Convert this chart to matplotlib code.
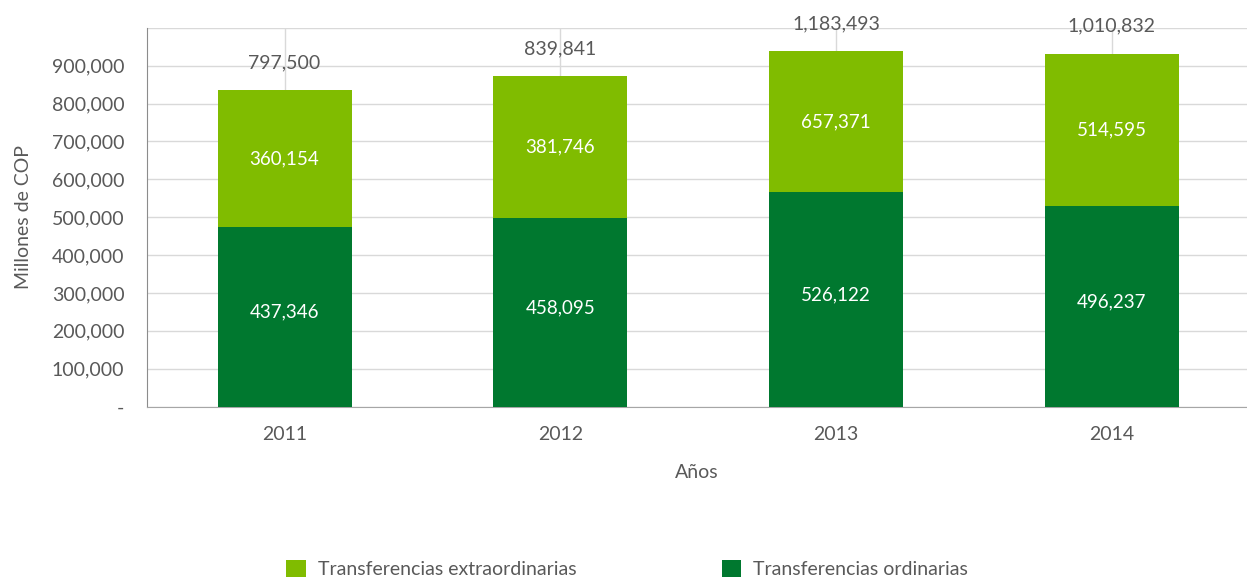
import matplotlib.pyplot as plt
import numpy as np

years = ['2011', '2012', '2013', '2014']
# bar heights as drawn in the chart
ordinarias_h = [475000, 499000, 567000, 530000]
extra_h = [360000, 373000, 371000, 401000]
# value labels printed on the chart
ordinarias_lbl = ['437,346', '458,095', '526,122', '496,237']
extra_lbl = ['360,154', '381,746', '657,371', '514,595']
total_lbl = ['797,500', '839,841', '1,183,493', '1,010,832']

light = '#80BC00'
dark = '#00782F'
text_gray = '#595959'

plt.rcParams['font.family'] = ['Lato', 'DejaVu Sans']

fig = plt.figure(figsize=(12.47, 5.85), dpi=100)
ax = fig.add_axes([0.1176, 0.305, 0.8824, 0.6474])

x = np.arange(len(years))
w = 0.486
b1 = ax.bar(x, ordinarias_h, w, color=dark, zorder=3, label='Transferencias ordinarias')
b2 = ax.bar(x, extra_h, w, bottom=ordinarias_h, color=light, zorder=3,
            label='Transferencias extraordinarias')

for i in range(len(years)):
    ax.text(x[i], ordinarias_h[i] / 2 + 12000, ordinarias_lbl[i], ha='center', va='center',
            color='white', fontsize=13.5, zorder=4)
    ax.text(x[i], ordinarias_h[i] + extra_h[i] / 2, extra_lbl[i], ha='center', va='center',
            color='white', fontsize=13.5, zorder=4)
    ax.annotate(total_lbl[i], (x[i], ordinarias_h[i] + extra_h[i]), xytext=(0, 20),
                textcoords='offset points', ha='center', va='center',
                color=text_gray, fontsize=14, annotation_clip=False)

ax.set_xlim(-0.5, 3.49)
ax.set_ylim(0, 1000000)
ax.set_yticks(np.arange(0, 1000001, 100000))
ax.set_yticklabels(['-'] + [f'{v:,}' for v in range(100000, 1000000, 100000)] + [''])
ax.set_xticks(x)
ax.set_xticklabels(years)
ax.tick_params(axis='both', colors=text_gray, labelsize=14, length=0)
ax.tick_params(axis='y', pad=16)
ax.tick_params(axis='x', pad=14)

ax.grid(True, color='#d9d9d9', linewidth=1, zorder=0)
for s in ['top', 'right']:
    ax.spines[s].set_visible(False)
ax.spines['left'].set_color('#8c8c8c')
ax.spines['bottom'].set_color('#a6a6a6')

ax.set_ylabel('Millones de COP', color=text_gray, fontsize=14, labelpad=14)
ax.set_xlabel('Años', color=text_gray, fontsize=14, labelpad=15)

fig.legend(handles=[b2, b1], loc='center', bbox_to_anchor=(0.503, 0.027), ncol=2,
           frameon=False, fontsize=14, labelcolor=text_gray, columnspacing=7.5,
           handlelength=1.0, handleheight=1.0, handletextpad=0.6)

fig.savefig('out.png', dpi=100)
